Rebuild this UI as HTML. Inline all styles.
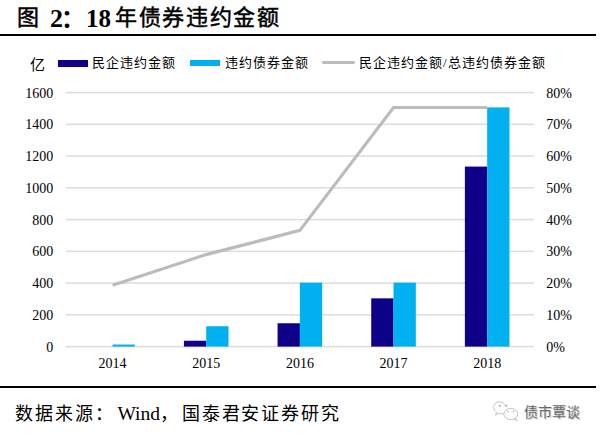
<!DOCTYPE html>
<html lang="zh-CN"><head><meta charset="utf-8">
<style>
html,body{margin:0;padding:0;background:#fff;width:600px;height:438px;overflow:hidden}
svg{position:absolute;left:0;top:0}
.ax{font-family:"Liberation Serif",serif;font-size:14px;fill:#000}
.t{position:absolute;white-space:nowrap;font-family:"Liberation Serif",serif;color:#000}
</style></head><body>
<div class="t" style="left:17px;top:1px;font-size:22px;line-height:34px;-webkit-text-stroke:0.5px #000">图</div>
<div class="t" style="left:50px;top:1.5px;font-size:26px;font-weight:bold;line-height:34px">2<span style="margin-left:-2px;font-size:24px">：</span></div>
<div class="t" style="left:86px;top:1.5px;font-size:26px;font-weight:bold;line-height:34px;font-size:25px">18</div>
<div class="t" style="left:115px;top:1px;font-size:22px;line-height:34px;-webkit-text-stroke:0.5px #000;letter-spacing:1.7px">年债券违约金额</div>
<div style="position:absolute;left:0;top:34px;width:596px;height:2px;background:#000"></div>
<div style="position:absolute;left:0;top:386px;width:596px;height:2px;background:#000"></div>
<div class="t" style="left:30px;top:55px;font-size:15px;line-height:20px">亿</div>
<div style="position:absolute;left:58px;top:60px;width:30px;height:7px;background:#0e0088"></div>
<div class="t" style="left:92px;top:53px;font-size:13px;line-height:20px;letter-spacing:1px">民企违约金额</div>
<div style="position:absolute;left:190px;top:60px;width:30px;height:6px;background:#00b0f0"></div>
<div class="t" style="left:225px;top:53px;font-size:13px;line-height:20px;letter-spacing:1px">违约债券金额</div>
<div style="position:absolute;left:322px;top:60.5px;width:33px;height:3.8px;background:#bcbcbc;border-radius:2px"></div>
<div class="t" style="left:359px;top:53px;font-size:13px;line-height:20px;letter-spacing:1px">民企违约金额/总违约债券金额</div>
<div class="t" style="left:15px;top:402px;font-size:18px;line-height:24px;letter-spacing:2px">数据来源：</div>
<div class="t" style="left:117.5px;top:401.5px;font-size:18px;line-height:24px;font-size:19.5px">Wind<span style="font-size:18px">，</span></div>
<div class="t" style="left:182px;top:402px;font-size:18px;line-height:24px;letter-spacing:1.8px">国泰君安证券研究</div>
<div class="t" style="left:524px;top:403px;font-size:14px;line-height:20px;color:#6a6a6a;text-shadow:0.6px 0.6px 0 #c8c8c8">债市覃谈</div>
<svg style="position:absolute;left:490px;top:398px" width="32" height="28" viewBox="0 0 32 28" fill="none" stroke="#bdbdbd" stroke-width="0.9">
<circle cx="9.8" cy="7.8" r="0.9" fill="#999" stroke="none"/><circle cx="16.2" cy="7.8" r="0.9" fill="#999" stroke="none"/><circle cx="18" cy="13.5" r="0.7" fill="#aaa" stroke="none"/><circle cx="23.5" cy="13.5" r="0.7" fill="#aaa" stroke="none"/>
<path d="M15.6 8.6 C14.8 5.2 11.8 3.6 8.8 3.8 C5.6 4 3.6 6.6 3.8 9.6 C3.9 11.6 5 13.2 6.6 14.2 L5.6 17 L9.2 15.4 C10.5 15.8 11.8 15.8 13.2 15.6"/>
<ellipse cx="20.8" cy="16" rx="7" ry="5.6"/>
<path d="M25.5 20 L27 22.6 L23.8 21.2" />
</svg>
<svg width="600" height="438" viewBox="0 0 600 438">
<rect x="65.75" y="91.85" width="468.25" height="1.5" fill="#dcdcdc"/>
<rect x="65.75" y="123.60" width="468.25" height="1.5" fill="#dcdcdc"/>
<rect x="65.75" y="155.35" width="468.25" height="1.5" fill="#dcdcdc"/>
<rect x="65.75" y="187.10" width="468.25" height="1.5" fill="#dcdcdc"/>
<rect x="65.75" y="218.85" width="468.25" height="1.5" fill="#dcdcdc"/>
<rect x="65.75" y="250.60" width="468.25" height="1.5" fill="#dcdcdc"/>
<rect x="65.75" y="282.35" width="468.25" height="1.5" fill="#dcdcdc"/>
<rect x="65.75" y="314.10" width="468.25" height="1.5" fill="#dcdcdc"/>
<rect x="65.75" y="345.85" width="468.25" height="1.5" fill="#dcdcdc"/>
<rect x="90.28" y="346.60" width="22.3" height="0.00" fill="#0e0088"/>
<rect x="112.58" y="344.54" width="22.3" height="2.06" fill="#00b0f0"/>
<rect x="183.93" y="340.74" width="22.3" height="5.86" fill="#0e0088"/>
<rect x="206.23" y="326.25" width="22.3" height="20.35" fill="#00b0f0"/>
<rect x="277.57" y="323.26" width="22.3" height="23.34" fill="#0e0088"/>
<rect x="299.88" y="282.62" width="22.3" height="63.98" fill="#00b0f0"/>
<rect x="371.23" y="298.34" width="22.3" height="48.26" fill="#0e0088"/>
<rect x="393.53" y="282.62" width="22.3" height="63.98" fill="#00b0f0"/>
<rect x="464.88" y="166.58" width="22.3" height="180.02" fill="#0e0088"/>
<rect x="487.18" y="107.36" width="22.3" height="239.24" fill="#00b0f0"/>
<polyline points="112.58,285.32 206.23,254.59 299.88,230.40 393.53,107.52 487.18,107.52" fill="none" stroke="#bcbcbc" stroke-width="3.2" stroke-linejoin="miter"/>
<text x="53.2" y="97.50" text-anchor="end" class="ax">1600</text>
<text x="546.2" y="97.50" class="ax">80%</text>
<text x="53.2" y="129.25" text-anchor="end" class="ax">1400</text>
<text x="546.2" y="129.25" class="ax">70%</text>
<text x="53.2" y="161.00" text-anchor="end" class="ax">1200</text>
<text x="546.2" y="161.00" class="ax">60%</text>
<text x="53.2" y="192.75" text-anchor="end" class="ax">1000</text>
<text x="546.2" y="192.75" class="ax">50%</text>
<text x="53.2" y="224.50" text-anchor="end" class="ax">800</text>
<text x="546.2" y="224.50" class="ax">40%</text>
<text x="53.2" y="256.25" text-anchor="end" class="ax">600</text>
<text x="546.2" y="256.25" class="ax">30%</text>
<text x="53.2" y="288.00" text-anchor="end" class="ax">400</text>
<text x="546.2" y="288.00" class="ax">20%</text>
<text x="53.2" y="319.75" text-anchor="end" class="ax">200</text>
<text x="546.2" y="319.75" class="ax">10%</text>
<text x="53.2" y="351.50" text-anchor="end" class="ax">0</text>
<text x="546.2" y="351.50" class="ax">0%</text>
<text x="112.58" y="368.2" text-anchor="middle" class="ax">2014</text>
<text x="206.23" y="368.2" text-anchor="middle" class="ax">2015</text>
<text x="299.88" y="368.2" text-anchor="middle" class="ax">2016</text>
<text x="393.53" y="368.2" text-anchor="middle" class="ax">2017</text>
<text x="487.18" y="368.2" text-anchor="middle" class="ax">2018</text>
</svg>
</body></html>
